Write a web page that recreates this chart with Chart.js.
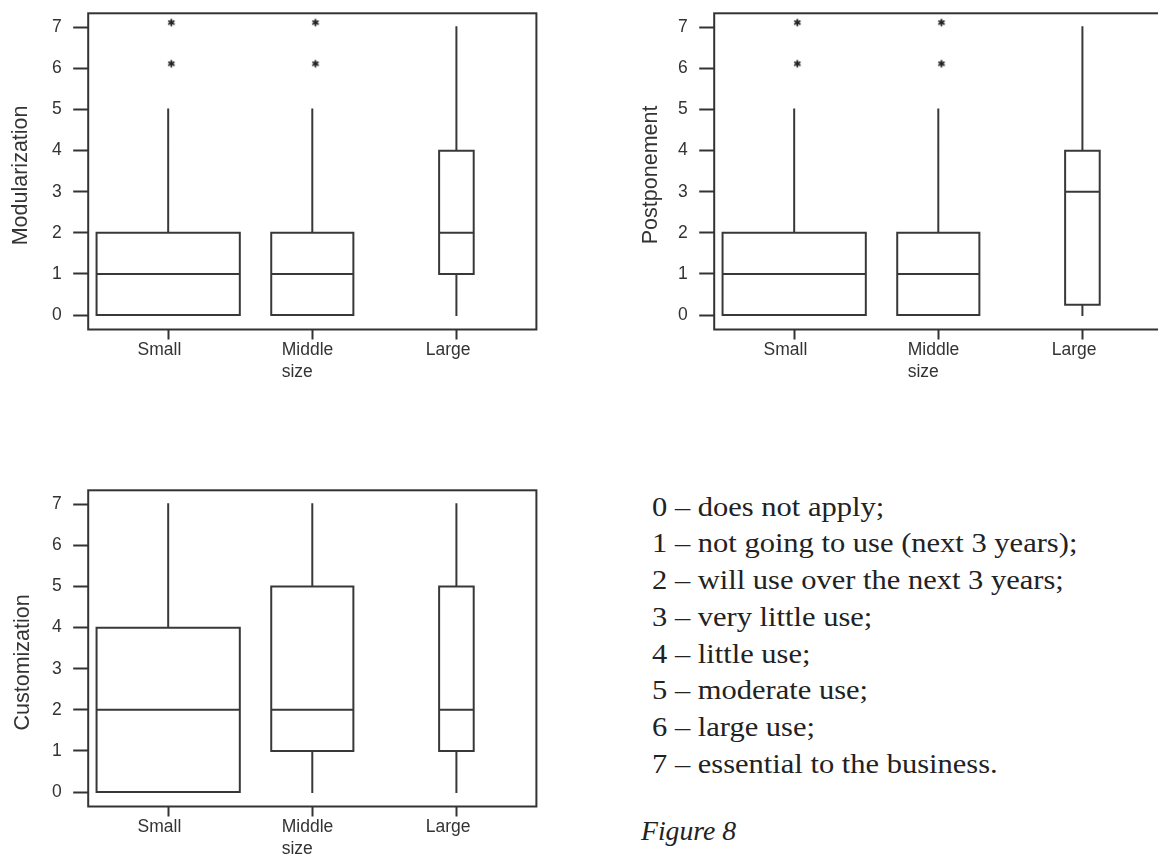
<!DOCTYPE html>
<html>
<head>
<meta charset="utf-8">
<script src="https://cdn.jsdelivr.net/npm/chart.js@4.4.1/dist/chart.umd.min.js"></script>
<style>
html,body{margin:0;padding:0;background:#fff;}
body{width:1158px;height:854px;overflow:hidden;position:relative;}
canvas{position:absolute;}
#c1{left:0;top:0;}
#c2{left:626.4px;top:0;}
#c3{left:0;top:476.7px;}
.legend{position:absolute;left:652px;top:488.5px;font-family:'Liberation Serif','Times New Roman',serif;font-size:27px;line-height:36.8px;color:#222;transform:scaleX(1.13);transform-origin:0 0;white-space:nowrap;}
.fig{position:absolute;left:641px;top:816.8px;font-family:'Liberation Serif','Times New Roman',serif;font-style:italic;font-size:27.7px;line-height:27.7px;color:#222;white-space:nowrap;}
</style>
</head>
<body>
<canvas id="c1" width="600" height="400"></canvas>
<canvas id="c2" width="600" height="400"></canvas>
<canvas id="c3" width="600" height="400"></canvas>
<div class="legend">
<div>0 – does not apply;</div>
<div>1 – not going to use (next 3 years);</div>
<div>2 – will use over the next 3 years;</div>
<div>3 – very little use;</div>
<div>4 – little use;</div>
<div>5 – moderate use;</div>
<div>6 – large use;</div>
<div>7 – essential to the business.</div>
</div>
<div class="fig">Figure 8</div>
<script>
// ---- data ----
const categories = [['Small'], ['Middle', 'size'], ['Large']];
const yTickValues = [0, 1, 2, 3, 4, 5, 6, 7];

const modularizationMin = [0, 0, 0];
const modularizationQ1 = [0, 0, 1];
const modularizationMedian = [1, 1, 2];
const modularizationQ3 = [2, 2, 4];
const modularizationMax = [5, 5, 7];
const modularizationOutliers = [[6, 7], [6, 7], []];

const postponementMin = [0, 0, 0];
const postponementQ1 = [0, 0, 0.25];
const postponementMedian = [1, 1, 3];
const postponementQ3 = [2, 2, 4];
const postponementMax = [5, 5, 7];
const postponementOutliers = [[6, 7], [6, 7], []];

const customizationMin = [0, 0, 0];
const customizationQ1 = [0, 1, 1];
const customizationMedian = [2, 2, 2];
const customizationQ3 = [4, 5, 5];
const customizationMax = [7, 7, 7];
const customizationOutliers = [[], [], []];

// ---- style ----
const BOX_WIDTHS = [0.994, 0.57, 0.24]; // box width in category units
const INK = '#333';
Chart.defaults.font.family = "'Liberation Sans', Arial, sans-serif";
Chart.defaults.color = INK;

function makeAsterisk() {
  const c = document.createElement('canvas');
  c.width = 24; c.height = 24;
  const g = c.getContext('2d');
  const cx = 12 + 3.2, cy = 12 - 4.7, r = 3;
  g.strokeStyle = '#222'; g.lineWidth = 1.7; g.lineCap = 'round';
  for (let k = 0; k < 3; k++) {
    const a = Math.PI / 2 + k * Math.PI / 3;
    g.beginPath();
    g.moveTo(cx - r * Math.cos(a), cy - r * Math.sin(a));
    g.lineTo(cx + r * Math.cos(a), cy + r * Math.sin(a));
    g.stroke();
  }
  return c;
}
const asterisk = makeAsterisk();

function boxSegments(min, q1, med, q3, max) {
  const pts = [];
  const gap = i => pts.push({x: i, y: null});
  for (let i = 0; i < q1.length; i++) {
    const h = BOX_WIDTHS[i] / 2;
    pts.push({x: i - h, y: q1[i]}, {x: i + h, y: q1[i]}, {x: i + h, y: q3[i]}, {x: i - h, y: q3[i]}, {x: i - h, y: q1[i]});
    gap(i);
    pts.push({x: i - h, y: med[i]}, {x: i + h, y: med[i]});
    gap(i);
    if (max[i] > q3[i]) { pts.push({x: i, y: q3[i]}, {x: i, y: max[i]}); gap(i); }
    if (q1[i] > min[i]) { pts.push({x: i, y: min[i]}, {x: i, y: q1[i]}); gap(i); }
  }
  return pts;
}

function outlierPoints(outliers) {
  const pts = [];
  outliers.forEach((vals, i) => vals.forEach(v => pts.push({x: i, y: v})));
  return pts;
}

const framePlugin = {
  id: 'frame',
  afterDatasetsDraw(chart) {
    const {ctx, chartArea: {left, top, right, bottom}} = chart;
    ctx.save();
    ctx.strokeStyle = INK;
    ctx.lineWidth = 2;
    ctx.strokeRect(left, top, right - left, bottom - top);
    ctx.restore();
  }
};

// title placement tweaks (pixels): gap from left edge, shift downward along the axis
function makeChart(id, title, min, q1, med, q3, max, outliers, titleGap, titleShift) {
  new Chart(document.getElementById(id), {
    type: 'scatter',
    data: {
      datasets: [
        {
          data: boxSegments(min, q1, med, q3, max),
          showLine: true,
          borderColor: '#383838',
          borderWidth: 2,
          borderCapStyle: 'square',
          borderJoinStyle: 'miter',
          pointRadius: 0,
          spanGaps: false
        },
        {
          data: outlierPoints(outliers),
          showLine: false,
          pointStyle: asterisk,
          pointRadius: 4
        }
      ]
    },
    options: {
      responsive: false,
      animation: false,
      layout: {padding: {left: 0, top: 13.3, right: 63.6, bottom: 0}},
      plugins: {legend: {display: false}, tooltip: {enabled: false}},
      scales: {
        x: {
          type: 'linear', min: -0.555, max: 2.555,
          afterBuildTicks: s => { s.ticks = categories.map((c, i) => ({value: i})); },
          afterFit: s => { s.height = 70.5; s.paddingLeft = 0; s.paddingRight = 0; },
          grid: {drawOnChartArea: false, drawTicks: true, tickLength: 10, color: INK, tickColor: INK, tickWidth: 2},
          border: {display: false},
          ticks: {
            padding: 0, align: 'start', labelOffset: -30.6, maxRotation: 0, autoSkip: false,
            color: INK, font: {size: 17.5, lineHeight: 1.25},
            callback: v => categories[v]
          }
        },
        y: {
          type: 'linear', min: -0.35, max: 7.34,
          afterBuildTicks: s => { s.ticks = yTickValues.map(v => ({value: v})); },
          afterFit: s => {
            s.width = 88.2; s.paddingTop = 0; s.paddingBottom = 0;
            if (!s._shiftedTitle) {
              const base = Object.getPrototypeOf(s).drawTitle;
              s.drawTitle = function () {
                const t = this.top, b = this.bottom;
                this.top = t + titleShift; this.bottom = b + titleShift;
                base.call(this);
                this.top = t; this.bottom = b;
              };
              s._shiftedTitle = true;
            }
          },
          grid: {drawOnChartArea: false, drawTicks: true, tickLength: 15, color: INK, tickColor: INK, tickWidth: 2},
          border: {display: false},
          ticks: {padding: 11.5, color: INK, font: {size: 17.5}, callback: v => String(v)},
          title: {display: true, text: title, color: INK, font: {size: 21.5}, padding: {top: titleGap, bottom: 0}}
        }
      }
    },
    plugins: [framePlugin]
  });
}

makeChart('c1', 'Modularization', modularizationMin, modularizationQ1, modularizationMedian, modularizationQ3, modularizationMax, modularizationOutliers, 8.5, 4);
makeChart('c2', 'Postponement', postponementMin, postponementQ1, postponementMedian, postponementQ3, postponementMax, postponementOutliers, 12.5, 3.5);
makeChart('c3', 'Customization', customizationMin, customizationQ1, customizationMedian, customizationQ3, customizationMax, customizationOutliers, 10, 14);
</script>
</body>
</html>
